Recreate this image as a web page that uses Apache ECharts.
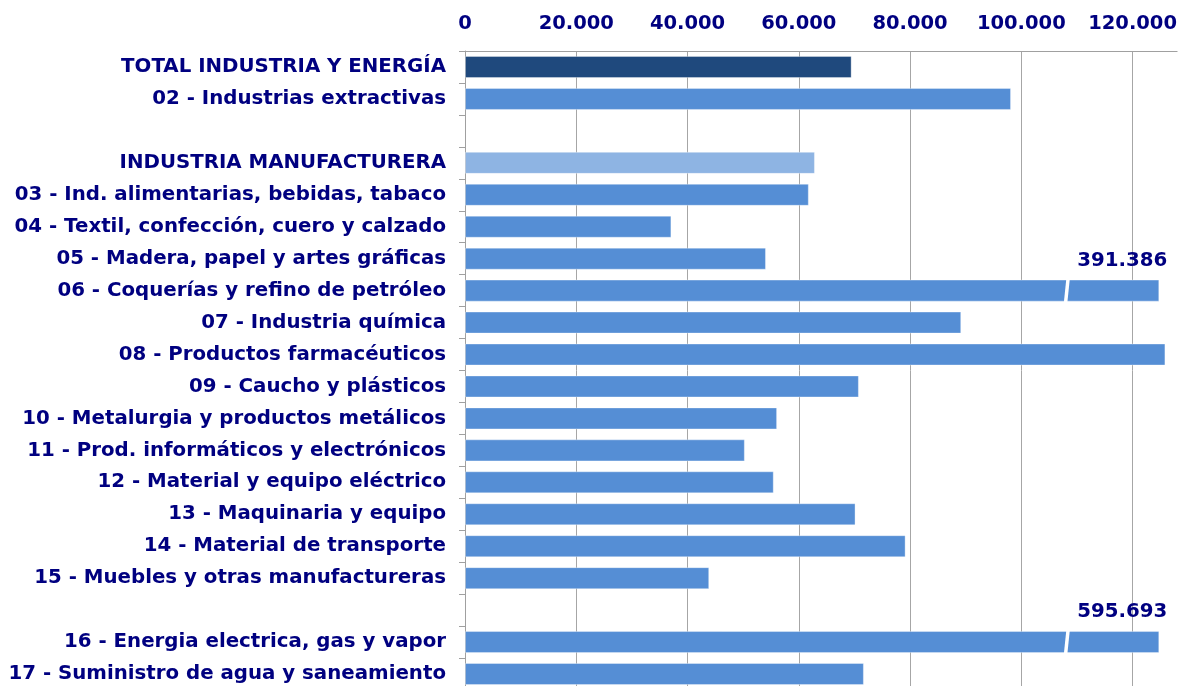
<!DOCTYPE html>
<html><head><meta charset="utf-8">
<script src="https://cdn.jsdelivr.net/npm/echarts@6/dist/echarts.min.js"></script>
<style>html,body{margin:0;padding:0;background:#fff;overflow:hidden}#c{width:1180px;height:690px}</style>
</head><body><div id="c"></div>
<script>
const categories = [
  'TOTAL INDUSTRIA Y ENERGÍA',
  '02 - Industrias extractivas',
  ' ',
  'INDUSTRIA MANUFACTURERA',
  '03 - Ind. alimentarias, bebidas, tabaco',
  '04 - Textil, confección, cuero y calzado',
  '05 - Madera, papel y artes gráficas',
  '06 - Coquerías y refino de petróleo',
  '07 - Industria química',
  '08 - Productos farmacéuticos',
  '09 - Caucho y plásticos',
  '10 - Metalurgia y productos metálicos',
  '11 - Prod. informáticos y electrónicos',
  '12 - Material y equipo eléctrico',
  '13 - Maquinaria y equipo',
  '14 - Material de transporte',
  '15 - Muebles y otras manufactureras',
  '  ',
  '16 - Energia electrica, gas y vapor',
  '17 - Suministro de agua y saneamiento'
];
const values = [69500, 98150, null, 62900, 61800, 37100, 54100, 391386, 89200, 125900,
                70800, 56100, 50300, 55500, 70200, 79200, 43900, null, 595693, 71700];
const levels = ['total', 'detail', '', 'group', 'detail', 'detail', 'detail', 'detail', 'detail', 'detail',
                'detail', 'detail', 'detail', 'detail', 'detail', 'detail', 'detail', '', 'detail', 'detail'];
const xTicks = [0, 20000, 40000, 60000, 80000, 100000, 120000];

const AXIS_MAX = 128000;
const CAP = 124800;      // bars longer than the axis are drawn broken at this length
const BREAK_AT = 108000; // where the break mark is drawn
const levelColors = { total: '#1F497D', group: '#8EB4E3', detail: '#558ED5' };
const NAVY = '#000080';
const FONT = 'DejaVu Sans';

function fmt(n) { return String(n).replace(/\B(?=(\d{3})+(?!\d))/g, '.'); }

const barData = values.map((v, i) => v == null ? null : {
  value: v > AXIS_MAX ? CAP : v,
  itemStyle: { color: levelColors[levels[i]] }
});
const brokenData = [];
values.forEach((v, i) => { if (v != null && v > AXIS_MAX) brokenData.push([v, i]); });

const chart = echarts.init(document.getElementById('c'), null, { renderer: 'canvas' });
chart.setOption({
  animation: false,
  grid: { left: 465, right: 0, top: 51, bottom: 0, containLabel: false },
  xAxis: {
    type: 'value', position: 'top', min: 0, max: AXIS_MAX, interval: 20000,
    axisLine: { show: true, lineStyle: { color: '#A0A0A0', width: 1 } },
    axisTick: { show: false },
    splitLine: { show: true, showMaxLine: false, lineStyle: { color: '#A6A6A6', width: 1 } },
    axisLabel: {
      margin: 17, color: NAVY, fontFamily: FONT, fontWeight: 'bold', fontSize: 19.5,
      showMaxLabel: false,
      formatter: v => xTicks.includes(v) ? fmt(v) : ''
    }
  },
  yAxis: {
    type: 'category', inverse: true, data: categories,
    axisLine: { show: true, lineStyle: { color: '#A0A0A0', width: 1 } },
    axisTick: { show: true, length: 6, lineStyle: { color: '#A0A0A0' } },
    axisLabel: { margin: 19, color: NAVY, fontFamily: FONT, fontWeight: 'bold', fontSize: 19.8 },
    splitLine: { show: false }
  },
  series: [
    {
      type: 'bar', data: barData, barWidth: '69%',
      itemStyle: { borderColor: 'rgba(255,255,255,0.35)', borderWidth: 1 },
      z: 2
    },
    {
      type: 'custom', data: brokenData, encode: { x: 0, y: 1 }, z: 5, clip: false,
      renderItem: function (params, api) {
        const idx = api.value(1);
        const y = api.coord([0, idx])[1];
        const band = api.size([0, 1])[1];
        const h = band * 0.69;
        const xEnd = api.coord([CAP, idx])[0];
        const xB = api.coord([BREAK_AT, idx])[0];
        return {
          type: 'group',
          children: [
            {
              type: 'polygon',
              shape: { points: [[xB - 2, y + h / 2 + 1], [xB + 1.5, y + h / 2 + 1], [xB + 4, y - h / 2 - 1], [xB + 0.5, y - h / 2 - 1]] },
              style: { fill: '#FFFFFF' }
            },
            {
              type: 'text',
              style: {
                text: fmt(api.value(0)), x: xEnd + 8, y: y - h / 2 - 9,
                align: 'right', verticalAlign: 'bottom',
                fill: NAVY, font: 'bold 19.8px "DejaVu Sans"'
              }
            }
          ]
        };
      }
    }
  ]
});
</script></body></html>
